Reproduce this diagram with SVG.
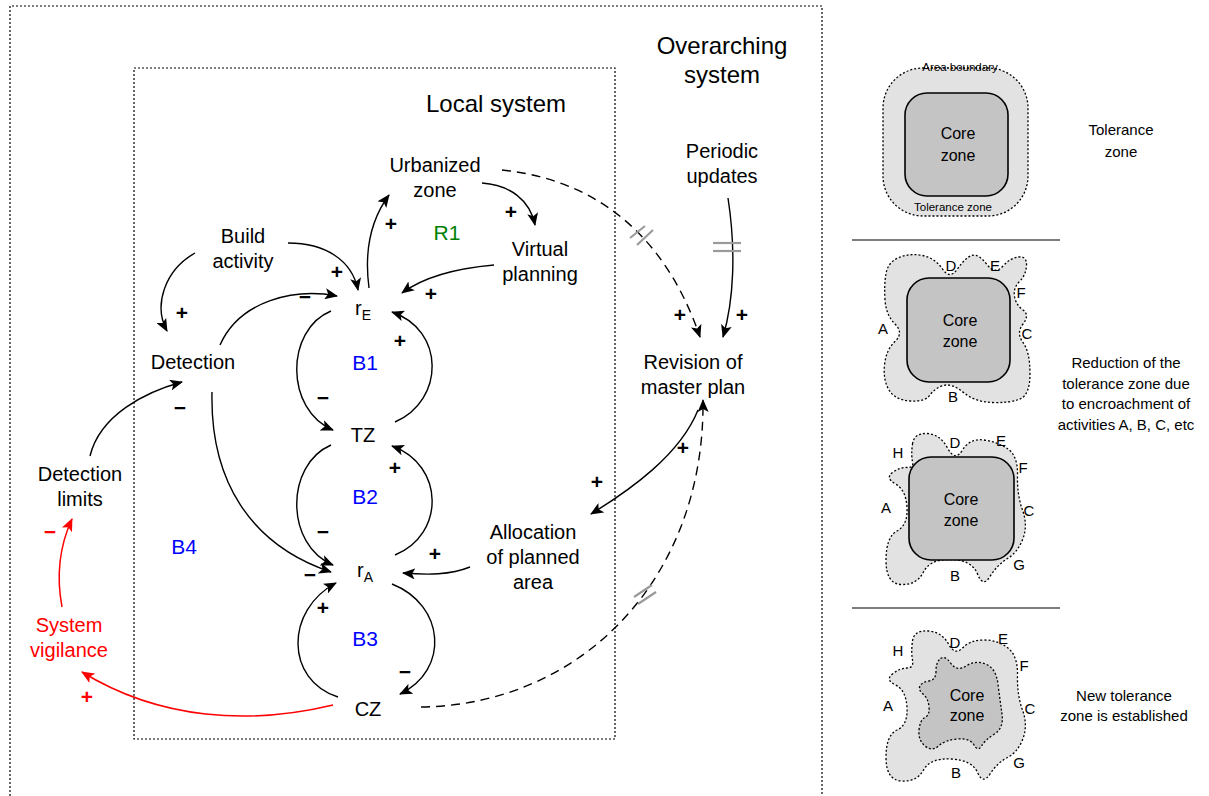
<svg xmlns="http://www.w3.org/2000/svg" width="1209" height="796" viewBox="0 0 1209 796">
<style>
text{font-family:"Liberation Sans",Arial,sans-serif;fill:#000}
.lbl{font-size:20px;text-anchor:middle}
.big{font-size:24px;text-anchor:middle}
.sgn{font-size:21px;text-anchor:middle;font-weight:bold}
.loop{font-size:21px;text-anchor:middle;fill:#0000ff}
.red{fill:#ff0000}
.sm{font-size:15px;text-anchor:middle}
.tiny{font-size:11.5px;text-anchor:middle}
.ltr{font-size:15px;text-anchor:middle}
.box{fill:none;stroke:#000;stroke-width:1.2;stroke-dasharray:2 2}
.c{fill:none;stroke:#000;stroke-width:1.4;marker-end:url(#ah)}
.d{fill:none;stroke:#000;stroke-width:1.4;stroke-dasharray:9 6;marker-end:url(#ah)}
.r{fill:none;stroke:#ff0000;stroke-width:1.5;marker-end:url(#ahr)}
.hash{stroke:#9a9a9a;stroke-width:2.2}
.outer{fill:#e2e2e2;stroke:#000;stroke-width:1.3;stroke-dasharray:2 2}
.core{fill:#c4c4c4;stroke:#000;stroke-width:1.6}
.corer{fill:#c4c4c4;stroke:#000;stroke-width:1.3;stroke-dasharray:2 2}
.sep{stroke:#000;stroke-width:1.2}
</style>
<defs>
<marker id="ah" viewBox="0 0 13 11" refX="12" refY="5.5" markerWidth="13" markerHeight="11" markerUnits="userSpaceOnUse" orient="auto"><path d="M0,0 L13,5.5 L0,11 L3,5.5 z" fill="#000"/></marker>
<marker id="ahr" viewBox="0 0 13 11" refX="12" refY="5.5" markerWidth="13" markerHeight="11" markerUnits="userSpaceOnUse" orient="auto"><path d="M0,0 L13,5.5 L0,11 L3,5.5 z" fill="#ff0000"/></marker>
</defs>

<g id="boundaries">
<path class="box" d="M10,800 V6 H822 V800"/>
<rect class="box" x="134" y="68" width="481" height="671"/>
<text class="big" x="722" y="54">Overarching</text>
<text class="big" x="722" y="83">system</text>
<text class="big" x="496" y="112">Local system</text>
</g>

<g id="connectors">
<path class="c" d="M195,253 C165,270 153,305 167,331"/>
<path class="c" d="M288,243 C325,243 352,260 358,290"/>
<path class="c" d="M220,345 C240,300 295,288 337,296"/>
<path class="c" d="M369,288 C364,250 372,218 389,195"/>
<path class="c" d="M482,183 C510,185 530,200 535,225"/>
<path class="c" d="M494,265 C460,268 425,276 402,293"/>
<path class="c" d="M212,392 C210,480 250,545 331,572"/>
<path class="c" d="M331,311 C285,330 285,410 333,430"/>
<path class="c" d="M395,422 C445,400 445,330 392,312"/>
<path class="c" d="M331,445 C285,465 285,545 333,565"/>
<path class="c" d="M395,555 C445,535 445,465 392,446"/>
<path class="c" d="M392,584 C445,605 450,670 400,694"/>
<path class="c" d="M338,697 C285,680 285,610 336,583"/>
<path class="c" d="M470,567 C450,575 428,575 403,573"/>
<path class="c" d="M698,410 C680,455 630,490 591,514"/>
<path class="c" d="M728,198 C736,250 734,300 723,337"/>
<path class="d" d="M502,170 C580,178 660,220 700,337"/>
<path class="d" d="M421,707 C580,705 705,580 703,400"/>
<path class="c" d="M90,456 C100,415 145,392 182,382"/>
<path class="r" d="M62,607 C56,575 60,545 72,519"/>
<path class="r" d="M333,705 C250,725 160,720 82,672"/>
<line class="hash" x1="630" y1="238" x2="645" y2="226"/>
<line class="hash" x1="637" y1="245" x2="653" y2="230"/>
<line class="hash" x1="713" y1="243" x2="741" y2="243"/>
<line class="hash" x1="713" y1="251" x2="741" y2="251"/>
<line class="hash" x1="634" y1="597" x2="652" y2="585"/>
<line class="hash" x1="638" y1="604" x2="656" y2="592"/>
</g>

<g id="signs">
<text class="sgn" x="182" y="320">+</text>
<text class="sgn" x="180" y="415">−</text>
<text class="sgn" x="337" y="279">+</text>
<text class="sgn" x="305" y="304">−</text>
<text class="sgn" x="391" y="231">+</text>
<text class="sgn" x="511" y="219">+</text>
<text class="sgn" x="431" y="301">+</text>
<text class="sgn" x="400" y="348">+</text>
<text class="sgn" x="323" y="405">−</text>
<text class="sgn" x="395" y="475">+</text>
<text class="sgn" x="323" y="539">−</text>
<text class="sgn" x="310" y="582">−</text>
<text class="sgn" x="435" y="561">+</text>
<text class="sgn" x="323" y="615">+</text>
<text class="sgn" x="405" y="679">−</text>
<text class="sgn" x="680" y="322">+</text>
<text class="sgn" x="742" y="322">+</text>
<text class="sgn" x="683" y="455">+</text>
<text class="sgn" x="597" y="489">+</text>
<text class="sgn red" x="50" y="539">−</text>
<text class="sgn red" x="87" y="704">+</text>
</g>

<g id="loops">
<text class="loop" x="447" y="240" style="fill:#008000">R1</text>
<text class="loop" x="365" y="370">B1</text>
<text class="loop" x="365" y="504">B2</text>
<text class="loop" x="365" y="646">B3</text>
<text class="loop" x="184" y="554">B4</text>
</g>

<g id="urbanized"><text class="lbl" x="435" y="172">Urbanized</text><text class="lbl" x="435" y="197">zone</text></g>
<g id="periodic"><text class="lbl" x="722" y="158">Periodic</text><text class="lbl" x="722" y="183">updates</text></g>
<g id="build"><text class="lbl" x="243" y="243">Build</text><text class="lbl" x="243" y="268">activity</text></g>
<g id="virtual"><text class="lbl" x="540" y="256">Virtual</text><text class="lbl" x="540" y="281">planning</text></g>
<g id="rE"><text class="lbl" x="363" y="315">r<tspan font-size="14" dy="5">E</tspan></text></g>
<g id="detection"><text class="lbl" x="193" y="369">Detection</text></g>
<g id="TZ"><text class="lbl" x="363" y="442">TZ</text></g>
<g id="revision"><text class="lbl" x="693" y="369">Revision of</text><text class="lbl" x="693" y="394">master plan</text></g>
<g id="detlimits"><text class="lbl" x="80" y="481">Detection</text><text class="lbl" x="80" y="506">limits</text></g>
<g id="allocation"><text class="lbl" x="533" y="539">Allocation</text><text class="lbl" x="533" y="564">of planned</text><text class="lbl" x="533" y="589">area</text></g>
<g id="rA"><text class="lbl" x="365" y="577">r<tspan font-size="14" dy="5">A</tspan></text></g>
<g id="vigilance"><text class="lbl red" x="69" y="632">System</text><text class="lbl red" x="69" y="657">vigilance</text></g>
<g id="CZ"><text class="lbl" x="368" y="716">CZ</text></g>

<g id="panel1">
<rect class="outer" x="883" y="68" width="145" height="148" rx="40"/>
<rect class="core" x="905" y="93" width="103" height="103" rx="22"/>
<text class="sm" x="958" y="139" style="font-size:16px">Core</text>
<text class="sm" x="958" y="161" style="font-size:16px">zone</text>
<text class="tiny" x="960" y="71">Area boundary</text>
<text class="tiny" x="953" y="211">Tolerance zone</text>
<text class="sm" x="1121" y="135">Tolerance</text>
<text class="sm" x="1121" y="157">zone</text>
</g>
<line class="sep" x1="852" y1="240" x2="1060" y2="240"/>
<g id="panel2">
<path class="outer" d="M885,300 Q884,285 886,273.5 Q888,262 899,257.5 Q910,253 922.5,255.5 Q935,258 942.5,269 Q950,280 957.5,269 Q965,258 971.5,255.5 Q978,253 986.5,264 Q995,275 1002.5,266.5 Q1010,258 1018.5,257 Q1027,256 1026.5,265.5 Q1026,275 1019.5,281.5 Q1013,288 1014.5,296.5 Q1016,305 1023,310 Q1030,315 1023,324 Q1016,333 1023,342.5 Q1030,352 1030,373.5 Q1030,395 1020,399 Q1010,403 992.5,402.5 Q975,402 963.5,392.5 Q952,383 943.5,385.5 Q935,388 930,395 Q925,402 910,401 Q895,400 889,390 Q883,380 884.5,365 Q886,350 895,341.5 Q904,333 895,324 Q886,315 885,300 Z"/>
<rect class="core" x="907" y="278" width="103" height="104" rx="22"/>
<text class="sm" x="960" y="326" style="font-size:16px">Core</text>
<text class="sm" x="960" y="347" style="font-size:16px">zone</text>
<text class="ltr" x="951" y="271">D</text>
<text class="ltr" x="995" y="271">E</text>
<text class="ltr" x="1021" y="298">F</text>
<text class="ltr" x="1027" y="339">C</text>
<text class="ltr" x="883" y="334">A</text>
<text class="ltr" x="953" y="402">B</text>
</g>
<g id="panel2text">
<text class="sm" x="1126" y="368">Reduction of the</text>
<text class="sm" x="1126" y="389">tolerance zone due</text>
<text class="sm" x="1126" y="409">to encroachment of</text>
<text class="sm" x="1126" y="430">activities A, B, C, etc</text>
</g>
<g id="panel3">
<path class="outer" d="M912.5,444 Q914,433 927,433.5 Q940,434 947.5,448 Q955,462 962.5,450 Q970,438 984,440 Q998,442 1008,449 Q1018,456 1017.5,475.5 Q1017,495 1022.5,510 Q1028,525 1023,538.5 Q1018,552 1007.5,558.5 Q997,565 990,576.5 Q983,588 977.5,574 Q972,560 951,559.5 Q930,559 923.5,572 Q917,585 901.5,584.5 Q886,584 886,560.5 Q886,537 897,531 Q908,525 907,507.5 Q906,490 895.5,484 Q885,478 892.5,472.5 Q900,467 907,467.5 Q914,468 912.5,461.5 Q911,455 912.5,444 Z"/>
<rect class="core" x="909" y="457" width="105" height="103" rx="22"/>
<text class="sm" x="961" y="505" style="font-size:16px">Core</text>
<text class="sm" x="961" y="526" style="font-size:16px">zone</text>
<text class="ltr" x="898" y="458">H</text>
<text class="ltr" x="955" y="448">D</text>
<text class="ltr" x="1001" y="446">E</text>
<text class="ltr" x="1023" y="473">F</text>
<text class="ltr" x="1029" y="516">C</text>
<text class="ltr" x="886" y="513">A</text>
<text class="ltr" x="955" y="581">B</text>
<text class="ltr" x="1019" y="570">G</text>
</g>
<line class="sep" x1="852" y1="608" x2="1060" y2="608"/>
<g id="panel4">
<path class="outer" d="M912.5,641 Q914,630 928,631 Q942,632 948.5,644 Q955,656 962.5,648 Q970,640 984,640 Q998,640 1008,648 Q1018,656 1017.5,675.5 Q1017,695 1022.5,710 Q1028,725 1023,738.5 Q1018,752 1007.5,757.5 Q997,763 990,774 Q983,785 977.5,772.5 Q972,760 951,759 Q930,758 923.5,770 Q917,782 901.5,781 Q886,780 886,757.5 Q886,735 897,730 Q908,725 907,707.5 Q906,690 895.5,685 Q885,680 892.5,674 Q900,668 907,668 Q914,668 912.5,660 Q911,652 912.5,641 Z"/>
<path class="corer" d="M940.5,658.5 Q945,655 951,663.5 Q957,672 966,666 Q975,660 985.5,664 Q996,668 998,684 Q1000,700 1002,714 Q1004,728 994.5,734 Q985,740 981.5,746 Q978,752 974,745 Q970,738 957.5,739 Q945,740 938.5,746 Q932,752 925,746 Q918,740 919,730 Q920,720 925,717.5 Q930,715 929,706.5 Q928,698 923,694 Q918,690 920,686 Q922,682 929,681 Q936,680 936,671 Q936,662 940.5,658.5 Z"/>
<text class="sm" x="967" y="701" style="font-size:16px">Core</text>
<text class="sm" x="967" y="721" style="font-size:16px">zone</text>
<text class="ltr" x="898" y="656">H</text>
<text class="ltr" x="955" y="648">D</text>
<text class="ltr" x="1003" y="644">E</text>
<text class="ltr" x="1024" y="671">F</text>
<text class="ltr" x="1030" y="714">C</text>
<text class="ltr" x="888" y="711">A</text>
<text class="ltr" x="956" y="778">B</text>
<text class="ltr" x="1019" y="768">G</text>
</g>
<g id="panel4text">
<text class="sm" x="1124" y="701">New tolerance</text>
<text class="sm" x="1124" y="721">zone is established</text>
</g>
</svg>
